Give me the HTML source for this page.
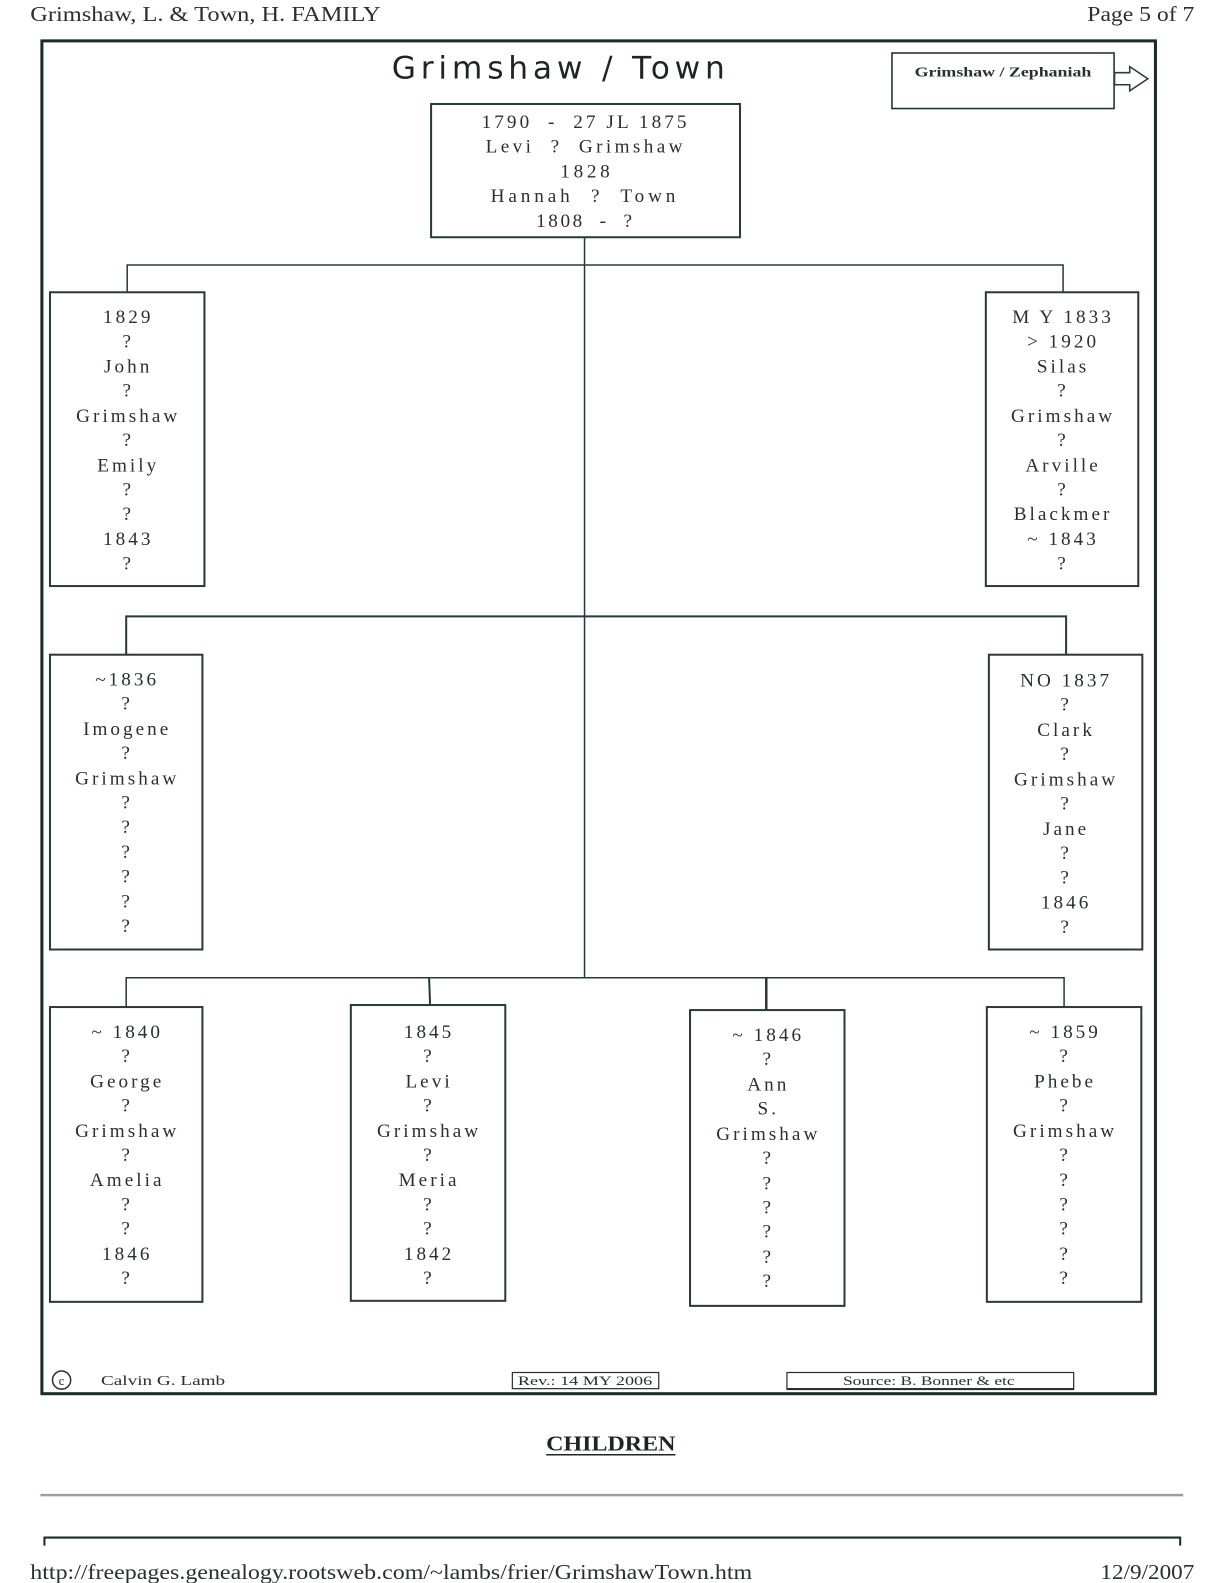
<!DOCTYPE html>
<html><head><meta charset="utf-8"><style>
html,body{margin:0;padding:0;background:#fff;width:1224px;height:1583px;overflow:hidden;}
svg{display:block;position:absolute;left:0;top:0;}
.t{font-family:"Liberation Serif",serif;font-size:19px;fill:#2a2f2f;letter-spacing:3px;text-anchor:middle;}
.p{font-family:"Liberation Serif",serif;font-size:19px;fill:#2a2f2f;white-space:pre;}
</style></head><body>
<svg width="1224" height="1583" viewBox="0 0 1212.4 1568" preserveAspectRatio="none" xmlns="http://www.w3.org/2000/svg">
<!-- header -->
<text x="30" y="21" font-family="Liberation Serif, serif" font-size="21" fill="#2a2f2f" textLength="347" lengthAdjust="spacingAndGlyphs">Grimshaw, L. &amp; Town, H. FAMILY</text>
<text x="1077" y="21" font-family="Liberation Serif, serif" font-size="21" fill="#2a2f2f" textLength="106" lengthAdjust="spacingAndGlyphs">Page 5 of 7</text>

<!-- frame -->
<rect x="41.5" y="40.5" width="1103" height="1340" fill="none" stroke="#1a2b2b" stroke-width="3"/>

<!-- title -->
<text x="388" y="78" font-family="DejaVu Sans, sans-serif" font-size="31" fill="#1f2424" textLength="330" lengthAdjust="spacing">Grimshaw / Town</text>

<!-- Zephaniah box -->
<rect x="883.5" y="52.5" width="220" height="55" fill="none" stroke="#1a2b2b" stroke-width="1.5"/>
<text x="906" y="76" font-family="Liberation Serif, serif" font-size="14" font-weight="bold" fill="#2a2f2f" textLength="175" lengthAdjust="spacingAndGlyphs">Grimshaw / Zephaniah</text>
<polygon points="1104,72 1119,72 1119,66 1137,78 1119,90 1119,84 1104,84" fill="#fff" stroke="#2a3a3a" stroke-width="1.5"/>

<!-- connectors -->
<g stroke="#2a3a3a" fill="none">
<line x1="579" y1="235" x2="579" y2="968" stroke-width="1.5"/>
<polyline points="126,289 126,262.5 1053,262.5 1053,289" stroke-width="1.5"/>
<polyline points="125,648 125,610.5 1056,610.5 1056,648" stroke-width="2"/>
<polyline points="125,997 125,968.5 1054,968.5 1054,997" stroke-width="1.5"/>
<line x1="425" y1="968" x2="426" y2="995" stroke-width="2"/>
<line x1="759" y1="968" x2="759" y2="1000" stroke-width="2.5"/>
</g>

<!-- boxes -->
<g fill="#fff" stroke="#2a3a3a" stroke-width="2">
<rect x="427" y="103" width="306" height="132"/>
<rect x="49.5" y="289.5" width="153" height="291"/>
<rect x="976.5" y="289.5" width="151" height="291"/>
<rect x="49.5" y="648.5" width="151" height="292"/>
<rect x="979.5" y="648.5" width="152" height="292"/>
<rect x="49.5" y="997.5" width="151" height="292"/>
<rect x="347.5" y="995.5" width="153" height="293"/>
<rect x="683.5" y="1000.5" width="153" height="293"/>
<rect x="977.5" y="997.5" width="153" height="292"/>
</g>

<!-- top box text -->
<g>
<text class="p" x="477" y="127" textLength="203" lengthAdjust="spacing">1790  -  27 JL 1875</text>
<text class="p" x="481" y="151" textLength="195" lengthAdjust="spacing">Levi  ?  Grimshaw</text>
<text class="p" x="555" y="176" textLength="49" lengthAdjust="spacing">1828</text>
<text class="p" x="486" y="200" textLength="183" lengthAdjust="spacing">Hannah  ?  Town</text>
<text class="p" x="531" y="225" textLength="95" lengthAdjust="spacing">1808  -  ?</text>
</g>

<!-- John -->
<g>
<text class="t" x="127" y="320">1829</text>
<text class="t" x="127" y="344">?</text>
<text class="t" x="127" y="369">John</text>
<text class="t" x="127" y="393">?</text>
<text class="t" x="127" y="418">Grimshaw</text>
<text class="t" x="127" y="442">?</text>
<text class="t" x="127" y="467">Emily</text>
<text class="t" x="127" y="491">?</text>
<text class="t" x="127" y="515">?</text>
<text class="t" x="127" y="540">1843</text>
<text class="t" x="127" y="564">?</text>
</g>
<!-- Silas -->
<g>
<text class="t" x="1053" y="320">M Y 1833</text>
<text class="t" x="1053" y="344">&gt; 1920</text>
<text class="t" x="1053" y="369">Silas</text>
<text class="t" x="1053" y="393">?</text>
<text class="t" x="1053" y="418">Grimshaw</text>
<text class="t" x="1053" y="442">?</text>
<text class="t" x="1053" y="467">Arville</text>
<text class="t" x="1053" y="491">?</text>
<text class="t" x="1053" y="515">Blackmer</text>
<text class="t" x="1053" y="540">~ 1843</text>
<text class="t" x="1053" y="564">?</text>
</g>
<!-- Imogene -->
<g>
<text class="t" x="126" y="679">~1836</text>
<text class="t" x="126" y="703">?</text>
<text class="t" x="126" y="728">Imogene</text>
<text class="t" x="126" y="752">?</text>
<text class="t" x="126" y="777">Grimshaw</text>
<text class="t" x="126" y="801">?</text>
<text class="t" x="126" y="825">?</text>
<text class="t" x="126" y="850">?</text>
<text class="t" x="126" y="874">?</text>
<text class="t" x="126" y="899">?</text>
<text class="t" x="126" y="923">?</text>
</g>
<!-- Clark -->
<g>
<text class="t" x="1056" y="680">NO 1837</text>
<text class="t" x="1056" y="704">?</text>
<text class="t" x="1056" y="729">Clark</text>
<text class="t" x="1056" y="753">?</text>
<text class="t" x="1056" y="778">Grimshaw</text>
<text class="t" x="1056" y="802">?</text>
<text class="t" x="1056" y="827">Jane</text>
<text class="t" x="1056" y="851">?</text>
<text class="t" x="1056" y="875">?</text>
<text class="t" x="1056" y="900">1846</text>
<text class="t" x="1056" y="924">?</text>
</g>
<!-- George -->
<g>
<text class="t" x="126" y="1028">~ 1840</text>
<text class="t" x="126" y="1052">?</text>
<text class="t" x="126" y="1077">George</text>
<text class="t" x="126" y="1101">?</text>
<text class="t" x="126" y="1126">Grimshaw</text>
<text class="t" x="126" y="1150">?</text>
<text class="t" x="126" y="1175">Amelia</text>
<text class="t" x="126" y="1199">?</text>
<text class="t" x="126" y="1223">?</text>
<text class="t" x="126" y="1248">1846</text>
<text class="t" x="126" y="1272">?</text>
</g>
<!-- Levi -->
<g>
<text class="t" x="425" y="1028">1845</text>
<text class="t" x="425" y="1052">?</text>
<text class="t" x="425" y="1077">Levi</text>
<text class="t" x="425" y="1101">?</text>
<text class="t" x="425" y="1126">Grimshaw</text>
<text class="t" x="425" y="1150">?</text>
<text class="t" x="425" y="1175">Meria</text>
<text class="t" x="425" y="1199">?</text>
<text class="t" x="425" y="1223">?</text>
<text class="t" x="425" y="1248">1842</text>
<text class="t" x="425" y="1272">?</text>
</g>
<!-- Ann -->
<g>
<text class="t" x="761" y="1031">~ 1846</text>
<text class="t" x="761" y="1055">?</text>
<text class="t" x="761" y="1080">Ann</text>
<text class="t" x="761" y="1104">S.</text>
<text class="t" x="761" y="1129">Grimshaw</text>
<text class="t" x="761" y="1153">?</text>
<text class="t" x="761" y="1178">?</text>
<text class="t" x="761" y="1202">?</text>
<text class="t" x="761" y="1226">?</text>
<text class="t" x="761" y="1251">?</text>
<text class="t" x="761" y="1275">?</text>
</g>
<!-- Phebe -->
<g>
<text class="t" x="1055" y="1028">~ 1859</text>
<text class="t" x="1055" y="1052">?</text>
<text class="t" x="1055" y="1077">Phebe</text>
<text class="t" x="1055" y="1101">?</text>
<text class="t" x="1055" y="1126">Grimshaw</text>
<text class="t" x="1055" y="1150">?</text>
<text class="t" x="1055" y="1175">?</text>
<text class="t" x="1055" y="1199">?</text>
<text class="t" x="1055" y="1223">?</text>
<text class="t" x="1055" y="1248">?</text>
<text class="t" x="1055" y="1272">?</text>
</g>

<!-- bottom of frame -->
<circle cx="61" cy="1367" r="9" fill="none" stroke="#2a2f2f" stroke-width="1.5"/>
<text x="61" y="1372" font-family="Liberation Serif, serif" font-size="13" fill="#2a2f2f" text-anchor="middle">c</text>
<text x="100" y="1372" font-family="Liberation Serif, serif" font-size="14" fill="#2a2f2f" textLength="123" lengthAdjust="spacingAndGlyphs">Calvin G. Lamb</text>
<rect x="507.5" y="1359.5" width="145" height="16" fill="none" stroke="#2a2f2f" stroke-width="1.2"/>
<text x="513" y="1372" font-family="Liberation Serif, serif" font-size="13" fill="#2a2f2f" textLength="133" lengthAdjust="spacingAndGlyphs">Rev.: 14 MY 2006</text>
<rect x="779.5" y="1359.5" width="284" height="16" fill="none" stroke="#2a2f2f" stroke-width="1.2"/>
<line x1="779" y1="1376" x2="1064" y2="1376" stroke="#2a2f2f" stroke-width="2"/>
<text x="835" y="1372" font-family="Liberation Serif, serif" font-size="13" fill="#2a2f2f" textLength="170" lengthAdjust="spacingAndGlyphs">Source: B. Bonner &amp; etc</text>

<!-- CHILDREN -->
<text x="541" y="1437" font-family="Liberation Serif, serif" font-size="21" font-weight="bold" fill="#1f2424" textLength="128" lengthAdjust="spacingAndGlyphs">CHILDREN</text>
<line x1="541" y1="1441" x2="669" y2="1441" stroke="#1f2424" stroke-width="1.5"/>

<!-- footer lines -->
<line x1="40" y1="1481" x2="1172" y2="1481" stroke="#9aa0a0" stroke-width="2.5"/>
<polyline points="44,1531 44,1523 1169,1523 1169,1531" fill="none" stroke="#1a2b2b" stroke-width="2"/>
<text x="30" y="1564" font-family="Liberation Serif, serif" font-size="21" fill="#2a2f2f" textLength="715" lengthAdjust="spacingAndGlyphs">http://freepages.genealogy.rootsweb.com/~lambs/frier/GrimshawTown.htm</text>
<text x="1090" y="1564" font-family="Liberation Serif, serif" font-size="21" fill="#2a2f2f" textLength="93" lengthAdjust="spacingAndGlyphs">12/9/2007</text>
</svg>
</body></html>
